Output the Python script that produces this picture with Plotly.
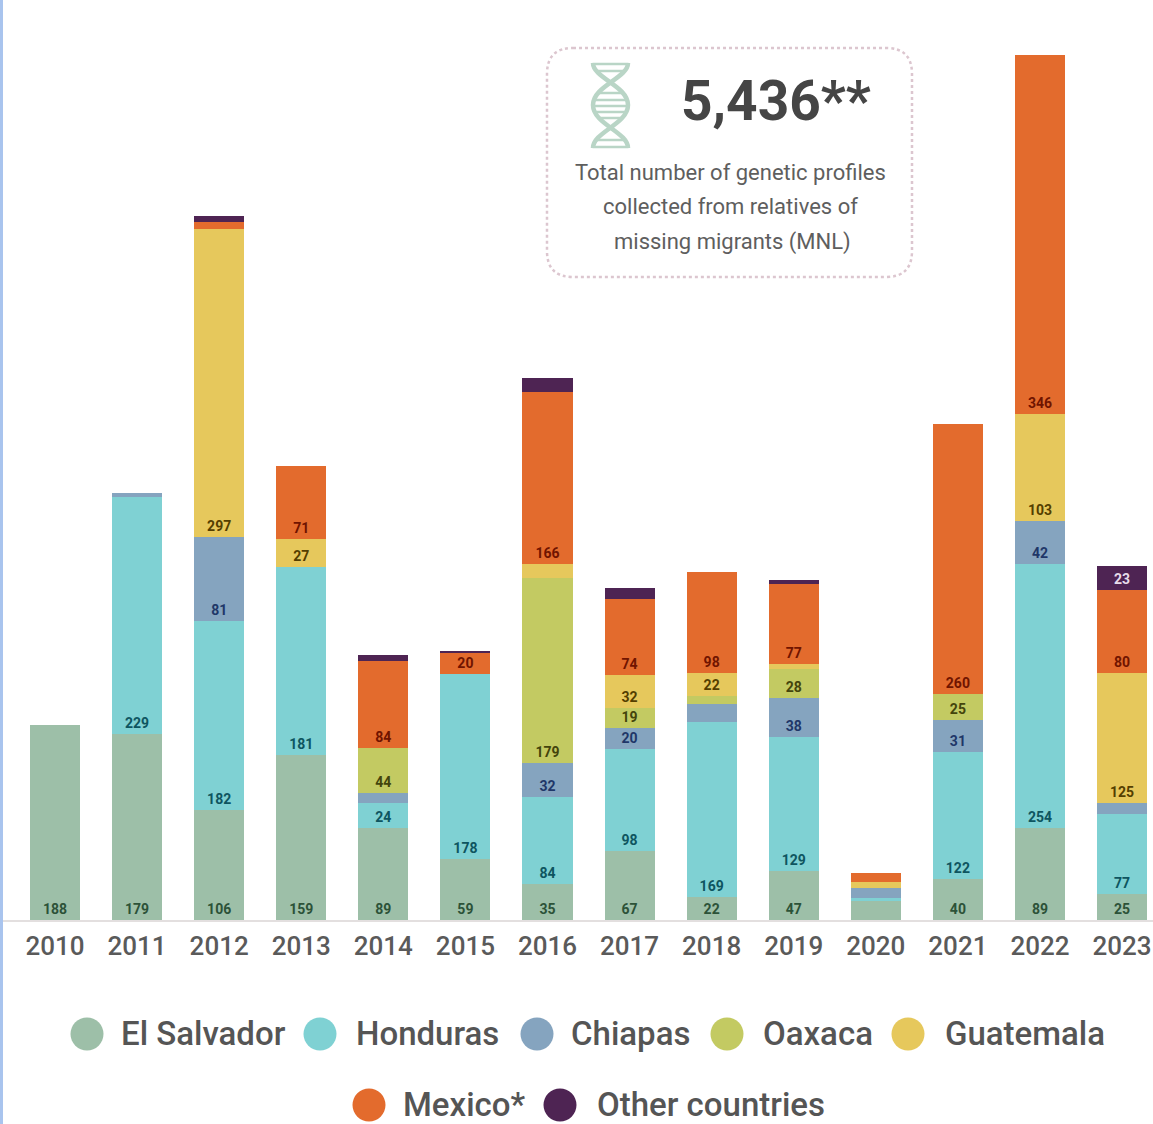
import plotly.graph_objects as go

W, H = 1153, 1124

years = [str(y) for y in range(2010, 2024)]
el_salvador = [188, 179, 106, 159, 89, 59, 35, 67, 22, 47, 18, 40, 89, 25]
honduras = [0, 229, 182, 181, 24, 178, 84, 98, 169, 129, 3, 122, 254, 77]
chiapas = [0, 4, 81, 0, 9, 0, 32, 20, 17, 38, 10, 31, 42, 11]
oaxaca = [0, 0, 0, 0, 44, 0, 179, 19, 8, 28, 0, 25, 0, 0]
guatemala = [0, 0, 297, 27, 0, 0, 13, 32, 22, 5, 6, 0, 103, 125]
mexico = [0, 0, 7, 71, 84, 20, 166, 74, 98, 77, 8, 260, 346, 80]
other = [0, 0, 6, 0, 6, 2, 14, 10, 0, 4, 0, 0, 0, 23]

series = [
    ("El Salvador", el_salvador, "#9dbfa8", "#2c5238"),
    ("Honduras", honduras, "#7fd1d3", "#0e5560"),
    ("Chiapas", chiapas, "#85a4bf", "#1f3768"),
    ("Oaxaca", oaxaca, "#c3ca62", "#44440c"),
    ("Guatemala", guatemala, "#e6c85c", "#543e00"),
    ("Mexico*", mexico, "#e36b2d", "#701400"),
    ("Other countries", other, "#4e2453", "#e6dcea"),
]

# Segments thinner than this carry no value label
LABEL_MIN = 19

legend_items = [
    ("El Salvador", 87, 119, 1033, "#9dbfa8"),
    ("Honduras", 320, 354, 1033, "#7fd1d3"),
    ("Chiapas", 537, 569, 1033, "#85a4bf"),
    ("Oaxaca", 727, 761, 1033, "#c3ca62"),
    ("Guatemala", 908, 943, 1033, "#e6c85c"),
    ("Mexico*", 369, 401, 1104, "#e36b2d"),
    ("Other countries", 560, 595, 1104, "#4e2453"),
]

BASE_Y = 920
PX_PER_UNIT = 1.037
SLOT = 82.08
FIRST_X = 55


def fx(px):
    return px / W


def fy(px):
    return 1 - px / H


def path(points_cmd):
    """Build an SVG path in figure-fraction coordinates from pixel tuples."""
    out = []
    for cmd, *pts in points_cmd:
        coords = " ".join(f"{fx(x):.5f},{fy(y):.5f}" for x, y in pts)
        out.append(f"{cmd} {coords}")
    return " ".join(out)


fig = go.Figure()
for name, values, color, text_color in series:
    fig.add_bar(
        x=years,
        y=values,
        name=name,
        marker=dict(color=color, line_width=0),
        text=[str(v) if v >= LABEL_MIN else "" for v in values],
        textposition="inside",
        insidetextanchor="start",
        textangle=0,
        constraintext="none",
        insidetextfont=dict(family="Roboto", size=14, color=text_color, weight="bold"),
        cliponaxis=False,
    )

shapes = []

# Strip along the left edge of the page
shapes.append(dict(type="rect", xref="paper", yref="paper", x0=0, x1=fx(3), y0=0, y1=1,
                   fillcolor="#a9c4ee", line_width=0, layer="above"))

# Callout frame with rounded corners
L, R, T, B, C = 547, 912, 48, 277, 26
frame = path([
    ("M", (L + C, T)), ("L", (R - C, T)), ("Q", (R, T), (R, T + C)),
    ("L", (R, B - C)), ("Q", (R, B), (R - C, B)),
    ("L", (L + C, B)), ("Q", (L, B), (L, B - C)),
    ("L", (L, T + C)), ("Q", (L, T), (L + C, T)), ("Z",),
])
shapes.append(dict(type="path", xref="paper", yref="paper", path=frame,
                   line=dict(color="#dcc6cf", width=2.5, dash="dot"), layer="below"))

# Double helix icon
DNA = "#b9d5c6"
strand_a = path([("M", (593, 63)), ("C", (593, 78), (628, 86), (628, 105)),
                 ("C", (628, 124), (593, 132), (593, 148))])
strand_b = path([("M", (628, 63)), ("C", (628, 78), (593, 86), (593, 105)),
                 ("C", (593, 124), (628, 132), (628, 148))])
for s in (strand_a, strand_b):
    shapes.append(dict(type="path", xref="paper", yref="paper", path=s,
                       line=dict(color=DNA, width=4.5)))
for y, half in [(64, 18), (71, 14), (93, 12), (100, 16), (106, 17), (112, 16), (118, 12),
                (140, 14), (147, 18)]:
    shapes.append(dict(type="line", xref="paper", yref="paper",
                       x0=fx(610.5 - half), x1=fx(610.5 + half), y0=fy(y), y1=fy(y),
                       line=dict(color=DNA, width=2.5)))

BODY = dict(family="Roboto", size=22, color="#5e5e5e")
annotations = [
    dict(text="5,436**", x=fx(776), y=fy(101), font=dict(family="Roboto", size=55, color="#454545", weight="bold")),
    dict(text="Total number of genetic profiles", x=fx(730), y=fy(173), font=BODY),
    dict(text="collected from relatives of", x=fx(730), y=fy(207), font=BODY),
    dict(text="missing migrants (MNL)", x=fx(732), y=fy(242), font=BODY),
]
for a in annotations:
    a.update(xref="paper", yref="paper", xanchor="center", yanchor="middle", showarrow=False)

# Legend: round swatches with labels set on two centred rows
for label, cx, tx, cy, color in legend_items:
    r = 16.5
    cy_swatch = cy + 1
    shapes.append(dict(type="circle", xref="paper", yref="paper",
                       x0=fx(cx - r), x1=fx(cx + r), y0=fy(cy_swatch + r), y1=fy(cy_swatch - r),
                       fillcolor=color, line_width=0))
    annotations.append(dict(text=label, xref="paper", yref="paper", x=fx(tx), y=fy(cy),
                            xanchor="left", yanchor="middle", showarrow=False,
                            font=dict(family="Roboto", size=33, color="#555555", weight=500)))

fig.update_layout(
    width=W,
    height=H,
    barmode="stack",
    bargap=0.39,
    showlegend=False,
    margin=dict(l=0, r=0, t=0, b=0),
    paper_bgcolor="white",
    plot_bgcolor="white",
    shapes=shapes,
    annotations=annotations,
    xaxis=dict(
        type="category",
        range=[(0 - FIRST_X) / SLOT, (W - FIRST_X) / SLOT],
        showgrid=False,
        showline=True,
        linecolor="#e3dfdf",
        linewidth=2,
        ticks="outside",
        ticklen=2,
        tickcolor="rgba(0,0,0,0)",
        tickfont=dict(family="Roboto", size=26, color="#5a5a5a", weight=500),
        automargin=False,
    ),
    yaxis=dict(
        domain=[1 - BASE_Y / H, 1],
        range=[0, BASE_Y / PX_PER_UNIT],
        visible=False,
        automargin=False,
    ),
)

fig.write_html("out.html")
